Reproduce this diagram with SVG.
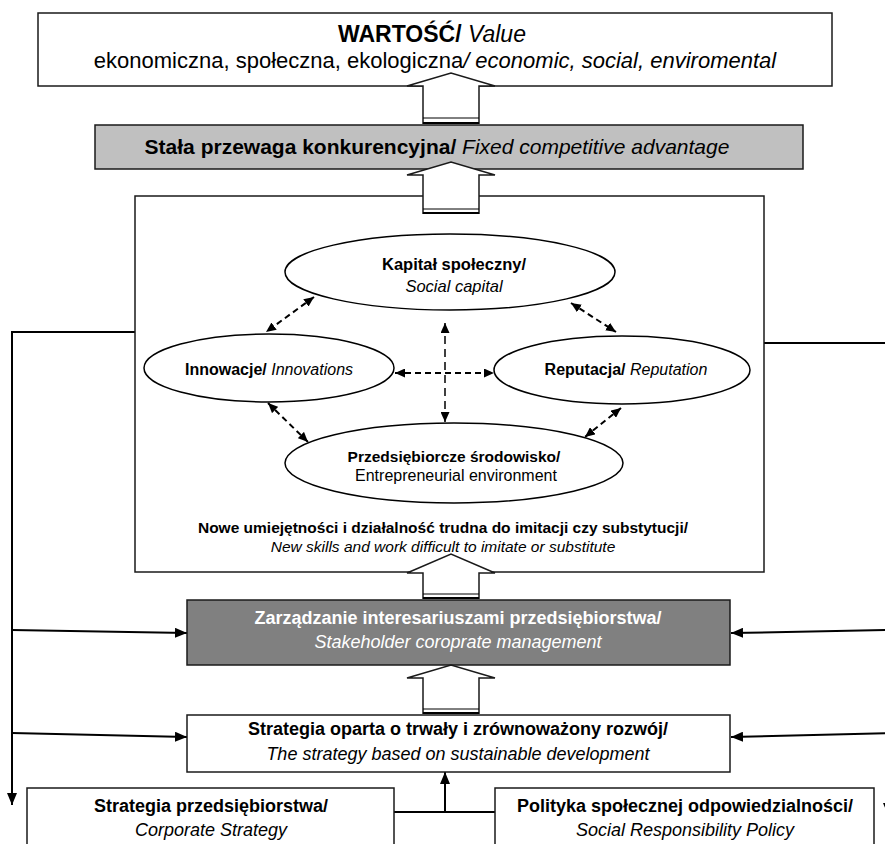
<svg xmlns="http://www.w3.org/2000/svg" width="885" height="844" viewBox="0 0 885 844">
<style>
.box{fill:#fff;stroke:#1a1a1a;stroke-width:1.5}
.g1{fill:#c0c0c0}
.g2{fill:#808080}
.t{font-family:"Liberation Sans",Arial,sans-serif;fill:#000;text-anchor:middle}
.w{fill:#fff}
.b{font-weight:bold}
.i{font-style:italic}
.conn{fill:none;stroke:#000;stroke-width:2}
.dash{fill:none;stroke:#000;stroke-width:2;stroke-dasharray:6 4}
.vdash{fill:none;stroke:#000;stroke-width:1.5;stroke-dasharray:8 5}
.ell{fill:#fff;stroke:#000;stroke-width:1.5}
.barrow{fill:#fff;stroke:#1a1a1a;stroke-width:1.5}
.dl1{stroke:#000;stroke-width:1}
.dl2{stroke:#000;stroke-width:2}
</style>
<defs>
<marker id="ah" markerWidth="12" markerHeight="10" refX="12" refY="5" orient="auto-start-reverse" markerUnits="userSpaceOnUse"><path d="M0,0 L12,5 L0,10 z" fill="#000"/></marker>
<marker id="dh" markerWidth="10" markerHeight="9" refX="10" refY="4.5" orient="auto-start-reverse" markerUnits="userSpaceOnUse"><path d="M0,0 L10,4.5 L0,9 z" fill="#000"/></marker>
</defs>

<g id="connectors">
<path class="conn" d="M135,332 H12 V805" marker-end="url(#ah)"/>
<path class="conn" d="M12,630 L187,633" marker-end="url(#ah)"/>
<path class="conn" d="M12,733 L187,737" marker-end="url(#ah)"/>
<path class="conn" d="M764,343 H890"/>
<path class="conn" d="M890,630 L731,633" marker-end="url(#ah)"/>
<path class="conn" d="M890,733 L731,737" marker-end="url(#ah)"/>
<path class="conn" d="M888,760 V815" marker-end="url(#ah)"/>
<path class="conn" d="M394,812 H495"/>
<path class="conn" d="M445,812 V772" marker-end="url(#ah)"/>
</g>

<g id="value">
<rect class="box" x="38" y="13" width="794" height="73"/>
<text class="t" x="432" y="42" font-size="23"><tspan class="b">WARTOŚĆ/</tspan><tspan class="i"> Value</tspan></text>
<text class="t" x="435" y="68" font-size="22">ekonomiczna, społeczna, ekologiczna<tspan class="i">/ economic, social, enviromental</tspan></text>
</g>

<g id="advantage">
<rect class="box g1" x="95" y="125" width="708" height="44"/>
<text class="t" x="437" y="154" font-size="21"><tspan class="b">Stała przewaga konkurencyjna/</tspan><tspan class="i"> Fixed competitive advantage</tspan></text>
</g>

<g id="resources">
<rect class="box" x="135" y="196" width="629" height="376"/>
<text class="t b" x="443" y="533" font-size="15.5">Nowe umiejętności i działalność trudna do imitacji czy substytucji/</text>
<text class="t i" x="443" y="552" font-size="15.5">New skills and work difficult to imitate or substitute</text>
</g>

<g id="social-capital">
<ellipse class="ell" cx="450" cy="272" rx="165" ry="38"/>
<text class="t b" x="454" y="270" font-size="16.5">Kapitał społeczny/</text>
<text class="t i" x="454" y="292" font-size="16.5">Social capital</text>
</g>

<g id="innovations">
<ellipse class="ell" cx="269" cy="368" rx="125" ry="34"/>
<text class="t" x="269" y="375" font-size="16"><tspan class="b">Innowacje/</tspan><tspan class="i"> Innovations</tspan></text>
</g>

<g id="reputation">
<ellipse class="ell" cx="622" cy="370" rx="128" ry="34"/>
<text class="t" x="626" y="375" font-size="16"><tspan class="b">Reputacja/</tspan><tspan class="i"> Reputation</tspan></text>
</g>

<g id="entrepreneurial">
<ellipse class="ell" cx="454" cy="463" rx="169" ry="40"/>
<text class="t b" x="454" y="462" font-size="15.5">Przedsiębiorcze środowisko/</text>
<text class="t" x="456" y="481" font-size="16">Entrepreneurial environment</text>
</g>

<g id="dashed-links">
<path class="dash" d="M314,297 L266,332" marker-start="url(#dh)" marker-end="url(#dh)"/>
<path class="dash" d="M571,303 L616,332" marker-start="url(#dh)" marker-end="url(#dh)"/>
<path class="vdash" d="M445,323 V422" marker-start="url(#dh)" marker-end="url(#dh)"/>
<path class="dash" d="M395,373 H494" marker-start="url(#dh)" marker-end="url(#dh)"/>
<path class="dash" d="M268,403 L308,442" marker-start="url(#dh)" marker-end="url(#dh)"/>
<path class="dash" d="M621,408 L585,437" marker-start="url(#dh)" marker-end="url(#dh)"/>
</g>

<g id="stakeholder">
<rect class="box g2" x="187" y="600" width="543" height="65"/>
<text class="t b w" x="458" y="624" font-size="18">Zarządzanie interesariuszami przedsiębiorstwa/</text>
<text class="t i w" x="458" y="648" font-size="18">Stakeholder coroprate management</text>
</g>

<g id="strategy">
<rect class="box" x="187" y="715" width="543" height="57"/>
<text class="t b" x="458" y="735" font-size="18">Strategia oparta o trwały i zrównoważony rozwój/</text>
<text class="t i" x="458" y="760" font-size="18">The strategy based on sustainable development</text>
</g>

<g id="corporate-strategy">
<rect class="box" x="27" y="788" width="367" height="80"/>
<text class="t b" x="211" y="812" font-size="18">Strategia przedsiębiorstwa/</text>
<text class="t i" x="211" y="836" font-size="18">Corporate Strategy</text>
</g>

<g id="csr-policy">
<rect class="box" x="495" y="788" width="379" height="80"/>
<text class="t b" x="685" y="812" font-size="18">Polityka społecznej odpowiedzialności/</text>
<text class="t i" x="685" y="836" font-size="18">Social Responsibility Policy</text>
</g>

<g id="block-arrows">
<path class="barrow" d="M423,124 V86 H407 L451,73 L495,86 H479 V124"/>
<line class="dl1" x1="423" y1="118" x2="479" y2="118"/>
<line class="dl2" x1="423" y1="123" x2="479" y2="123"/>
<path class="barrow" d="M423,214 V175 H407 L451,162 L495,175 H479 V214"/>
<line class="dl1" x1="423" y1="209" x2="479" y2="209"/>
<line class="dl2" x1="423" y1="213" x2="479" y2="213"/>
<path class="barrow" d="M423,599 V573 H407 L451,554 L495,573 H479 V599"/>
<line class="dl1" x1="423" y1="594" x2="479" y2="594"/>
<line class="dl2" x1="423" y1="598" x2="479" y2="598"/>
<path class="barrow" d="M423,714 V678 H407 L451,665 L495,678 H479 V714"/>
<line class="dl1" x1="423" y1="709" x2="479" y2="709"/>
<line class="dl2" x1="423" y1="713" x2="479" y2="713"/>
</g>
</svg>
